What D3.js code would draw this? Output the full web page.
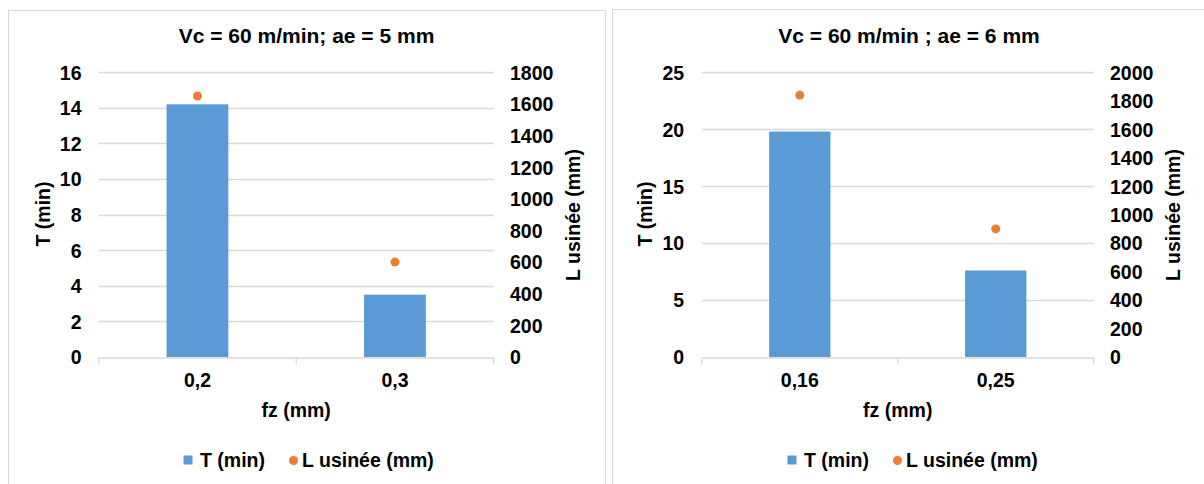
<!DOCTYPE html>
<html>
<head>
<meta charset="utf-8">
<script src="https://cdn.jsdelivr.net/npm/d3@7"></script>
<style>
  body { margin: 0; background: #fff; }
  svg text { font-family: "Liberation Sans", Arial, sans-serif; font-weight: bold; fill: #000; }
</style>
</head>
<body>
<script>
// données
var fz1 = ["0,2", "0,3"];
var T1 = [14.2, 3.5];
var L1 = [1650, 600];

var fz2 = ["0,16", "0,25"];
var T2 = [19.8, 7.6];
var L2 = [1840, 900];

var ticksT1 = [0, 2, 4, 6, 8, 10, 12, 14, 16];
var ticksL1 = [0, 200, 400, 600, 800, 1000, 1200, 1400, 1600, 1800];
var ticksT2 = [0, 5, 10, 15, 20, 25];
var ticksL2 = [0, 200, 400, 600, 800, 1000, 1200, 1400, 1600, 1800, 2000];

var titre1 = "Vc = 60 m/min; ae = 5 mm";
var titre2 = "Vc = 60 m/min ; ae = 6 mm";

var bleu = "#5b9bd5", orange = "#ed7d31", gris = "#d9d9d9";

var svg = d3.select("body")
    .append("svg")
    .attr("width", 1204)
    .attr("height", 484);

// cadres
svg.append("rect").attr("x", 8.5).attr("y", 10.5).attr("width", 597).attr("height", 490)
    .attr("fill", "none").attr("stroke", gris);
svg.append("rect").attr("x", 612.5).attr("y", 9.5).attr("width", 600).attr("height", 490)
    .attr("fill", "none").attr("stroke", gris);

function texte(g, t, x, y, ancre, taille) {
  return g.append("text").text(t)
    .attr("x", x).attr("y", y)
    .attr("text-anchor", ancre)
    .style("font-size", taille + "px");
}

function graphe(o) {
  var g = svg.append("g");

  var x = d3.scaleBand().domain(o.cats).range([o.x0, o.x1])
      .paddingInner(0.687).paddingOuter(0.3435);
  var band = d3.scaleBand().domain(o.cats).range([o.x0, o.x1]);
  var yT = d3.scaleLinear().domain([0, d3.max(o.tT)]).range([357, 72.3]);
  var yL = d3.scaleLinear().domain([0, d3.max(o.tL)]).range([357, 72.3]);

  // titre
  texte(g, o.titre, o.tx, 43, "middle", 21);

  // grille
  g.selectAll(".grid").data(o.tT.slice(1)).enter().append("line")
    .attr("x1", o.x0).attr("x2", o.x1)
    .attr("y1", d => Math.round(yT(d)) + 0.5).attr("y2", d => Math.round(yT(d)) + 0.5)
    .attr("stroke", gris).attr("stroke-width", 1.3);

  // barres
  g.selectAll(".bar").data(o.T).enter().append("rect")
    .attr("x", (d, i) => x(o.cats[i]))
    .attr("width", x.bandwidth())
    .attr("y", d => yT(d))
    .attr("height", d => 357 - yT(d))
    .attr("fill", bleu);

  // axe x
  var ax = d3.axisBottom(band).tickSize(0).tickSizeOuter(0).tickFormat("");
  var gx = g.append("g").attr("transform", "translate(0,357.5)").call(ax);
  gx.select(".domain").attr("stroke", gris).attr("stroke-width", 1.3);
  gx.selectAll(".tick").remove();
  var bords = [o.x0].concat(o.cats.map(c => band(c) + band.bandwidth()));
  gx.selectAll(".sep").data(bords).enter().append("line")
    .attr("x1", d => d).attr("x2", d => d).attr("y1", 0).attr("y2", 7)
    .attr("stroke", gris).attr("stroke-width", 1.3);

  o.cats.forEach(function (c) {
    texte(g, c, band(c) + band.bandwidth() / 2, 387, "middle", 19.5);
  });

  // points
  g.selectAll(".pt").data(o.L).enter().append("circle")
    .attr("cx", (d, i) => band(o.cats[i]) + band.bandwidth() / 2)
    .attr("cy", d => yL(d))
    .attr("r", 4.5)
    .attr("fill", orange);

  // axe gauche
  var aG = d3.axisLeft(yT).tickValues(o.tT).tickSize(0).tickPadding(0).tickFormat(d3.format("d"));
  var gl = g.append("g").attr("transform", "translate(" + o.lx + ",0)").call(aG);
  gl.select(".domain").remove();
  gl.selectAll("text").attr("x", 0).attr("dy", "0.35em")
    .style("font-size", "19.5px").attr("fill", "#000");

  // axe droit
  var aD = d3.axisRight(yL).tickValues(o.tL).tickSize(0).tickPadding(0).tickFormat(d3.format("d"));
  var gr = g.append("g").attr("transform", "translate(" + o.rx + ",0)").call(aD);
  gr.select(".domain").remove();
  gr.selectAll("text").attr("x", 0).attr("dy", "0.35em")
    .style("font-size", "19.5px").attr("fill", "#000");

  // titres d'axes
  g.append("text").text("T (min)")
    .attr("transform", "translate(" + o.ltx + ",214) rotate(-90)")
    .attr("text-anchor", "middle").style("font-size", "19.5px");
  g.append("text").text("L usinée (mm)")
    .attr("transform", "translate(" + o.rtx + ",215) rotate(-90)")
    .attr("text-anchor", "middle").style("font-size", "19.5px");
  texte(g, "fz (mm)", (o.x0 + o.x1) / 2, 416.5, "middle", 19.5);

  // légende
  g.append("rect").attr("x", o.leg).attr("y", 455.5).attr("width", 9).attr("height", 9).attr("fill", bleu);
  texte(g, "T (min)", o.leg + 16.5, 467, "start", 19.5);
  g.append("circle").attr("cx", o.leg + 110).attr("cy", 460.5).attr("r", 4.5).attr("fill", orange);
  texte(g, "L usinée (mm)", o.leg + 118.5, 467, "start", 19.5);
}

graphe({ cats: fz1, T: T1, L: L1, tT: ticksT1, tL: ticksL1, titre: titre1,
  x0: 98.7, x1: 493.7, tx: 306.5, lx: 81.5, rx: 510, ltx: 49.5, rtx: 579.5, leg: 183.5 });
graphe({ cats: fz2, T: T2, L: L2, tT: ticksT2, tL: ticksL2, titre: titre2,
  x0: 701.8, x1: 1093.7, tx: 909, lx: 684.2, rx: 1110, ltx: 651.5, rtx: 1179.5, leg: 787.5 });
</script>
</body>
</html>
